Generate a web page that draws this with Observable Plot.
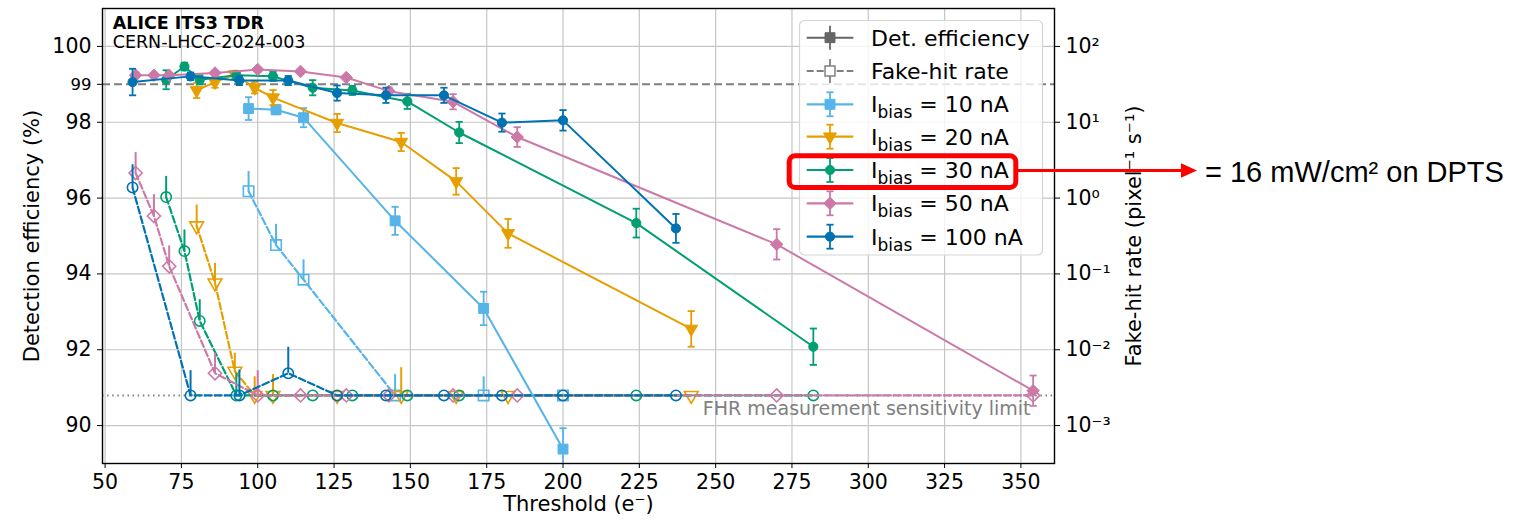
<!DOCTYPE html>
<html><head><meta charset="utf-8">
<script src="https://cdn.jsdelivr.net/npm/d3@7"></script>
<script src="https://cdn.jsdelivr.net/npm/@observablehq/plot@0.6"></script>
<style>
html,body{margin:0;padding:0;background:#fff;}
#chart{width:1519px;height:523px;overflow:hidden;}
</style></head><body><div id="chart"></div>
<script>
// ---------- data ----------
const xTicks = [50, 75, 100, 125, 150, 175, 200, 225, 250, 275, 300, 325, 350];
const effTicks = [90, 92, 94, 96, 98, 100];
const extraEffTick = [99];
const fhrLimit = 0.0025;          // FHR measurement sensitivity limit
const effRef = 99;                // 99 % reference line

const seriesNames = ["10 nA", "20 nA", "30 nA", "50 nA", "100 nA"];
const seriesColors = ["#56B4E9", "#E69F00", "#009E73", "#CC79A7", "#0072B2"];

// 10 nA
const thr10 = [97, 106, 115, 145, 174, 200];
const eff10 = [98.36, 98.33, 98.12, 95.40, 93.09, 89.38];
const effErr10 = [0.3, 0.12, 0.25, 0.37, 0.44, 0.55];
const fhr10 = [1.23, 0.24, 0.084, 0.0025, 0.0025, 0.0025];
const fhrHi10 = [2.24, 0.45, 0.153, 0.0047, 0.0044, null];
// 20 nA
const thr20 = [80, 86, 92.5, 99, 105, 126, 147, 165, 182, 242];
const eff20 = [98.84, 99.06, 99.26, 98.91, 98.65, 97.98, 97.48, 96.44, 95.07, 92.55];
const effErr20 = [0.2, 0.15, 0.1, 0.15, 0.2, 0.24, 0.24, 0.35, 0.38, 0.47];
const fhr20 = [0.43, 0.076, 0.0052, 0.0025, 0.0025, 0.0025, 0.0025, 0.0025, 0.0025, 0.0025];
const fhrHi20 = [0.81, 0.138, 0.009, 0.0044, 0.0047, null, 0.0058, null, null, null];
// 30 nA
const thr30 = [70, 76, 81, 93, 105, 118, 131, 149, 166, 224, 282];
const eff30 = [99.12, 99.47, 99.12, 99.24, 99.21, 98.91, 98.84, 98.55, 97.73, 95.34, 92.08];
const effErr30 = [0.25, 0.1, 0.12, 0.1, 0.12, 0.2, 0.12, 0.2, 0.28, 0.38, 0.48];
const fhr30 = [1.03, 0.20, 0.024, 0.0025, 0.0025, 0.0025, 0.0025, 0.0025, 0.0025, 0.0025, 0.0025];
const fhrHi30 = [1.93, 0.38, 0.0457, 0.0049, null, null, null, null, null, null, null];
// 50 nA
const thr50 = [60, 66, 71, 86, 100, 114, 129, 143, 164, 185, 270, 354];
const eff50 = [99.24, 99.24, 99.24, 99.30, 99.39, 99.34, 99.18, 98.82, 98.54, 97.61, 94.78, 90.92];
const effErr50 = [0.08, 0.05, 0.05, 0.05, 0.05, 0.05, 0.05, 0.1, 0.2, 0.26, 0.4, 0.4];
const fhr50 = [2.14, 0.58, 0.126, 0.0049, 0.0025, 0.0025, 0.0025, 0.0025, 0.0025, 0.0025, 0.0025, 0.0025];
const fhrHi50 = [3.98, 1.11, 0.234, 0.009, 0.0053, null, null, null, null, null, null, null];
// 100 nA
const thr100 = [59, 78, 94, 110, 126, 142, 161, 180, 200, 237];
const eff100 = [99.06, 99.21, 99.1, 99.1, 98.77, 98.71, 98.71, 97.99, 98.05, 95.2];
const effErr100 = [0.35, 0.1, 0.12, 0.12, 0.2, 0.2, 0.2, 0.24, 0.27, 0.38];
const fhr100 = [1.38, 0.0025, 0.0025, 0.0049, 0.0025, 0.0025, 0.0025, 0.0025, 0.0025, 0.0025];
const fhrHi100 = [2.75, 0.0053, 0.0054, 0.0108, null, null, null, null, null, null];

// ---------- helpers ----------
// right (log) axis aligned with left: 10^2 <-> 100 %, one decade per 2 %
const effOf = f => 100 + 2 * (Math.log10(f) - 2);
const supMap = {"-": "\u207B", "0": "\u2070", "1": "\u00B9", "2": "\u00B2", "3": "\u00B3"};
const powFmt = e => "10" + String(Math.round((e - 100) / 2 + 2)).split("").map(c => supMap[c]).join("");

const triangleDown = {
  draw(ctx, size) {
    const y = -Math.sqrt(size / (3 * Math.sqrt(3)));
    ctx.moveTo(0, -y * 2);
    ctx.lineTo(-Math.sqrt(3) * y, y);
    ctx.lineTo(Math.sqrt(3) * y, y);
    ctx.closePath();
  }
};
const hline = {
  draw(ctx, size) {
    const r = Math.sqrt(size / Math.PI);
    ctx.moveTo(-r, 0);
    ctx.lineTo(r, 0);
  }
};
const seriesSymbols = ["square", triangleDown, "circle", "diamond2", "circle"];
const seriesR = [5.6, 4.8, 4.6, 5.6, 4.6];
const openR = [5.9, 5.1, 5.2, 5.9, 5.2];

function rows(i, thr, eff, err, fhr, fhrHi) {
  return thr.map((t, j) => ({series: seriesNames[i], thr: t, eff: eff[j], err: err[j], fhr: fhr[j], fhrHi: fhrHi[j]}));
}
const allSeries = [
  rows(0, thr10, eff10, effErr10, fhr10, fhrHi10),
  rows(1, thr20, eff20, effErr20, fhr20, fhrHi20),
  rows(2, thr30, eff30, effErr30, fhr30, fhrHi30),
  rows(3, thr50, eff50, effErr50, fhr50, fhrHi50),
  rows(4, thr100, eff100, effErr100, fhr100, fhrHi100)
];

// ---------- marks ----------
const marks = [
  Plot.ruleX(xTicks, {stroke: "#c6c6c6", strokeWidth: 1.2}),
  Plot.ruleY(effTicks, {stroke: "#c6c6c6", strokeWidth: 1.2}),
  Plot.ruleY([effRef], {stroke: "#808080", strokeWidth: 2, strokeDasharray: "8,4"}),
  Plot.ruleY([fhrLimit], {y: d => effOf(d), stroke: "#808080", strokeWidth: 2, strokeDasharray: "1.5,3.6"}),
  Plot.text(["FHR measurement sensitivity limit"], {frameAnchor: "right", y: [effOf(fhrLimit)], dx: -24, dy: 14, textAnchor: "end", fill: "#808080", fontSize: 19})
];

// fake-hit rate (dashed, open markers)
allSeries.forEach((data, i) => {
  const c = seriesColors[i];
  marks.push(
    Plot.line(data, {x: "thr", y: d => effOf(d.fhr), stroke: c, strokeWidth: 2.2, strokeDasharray: "7,3"}),
    Plot.ruleX(data.filter(d => d.fhrHi != null), {x: "thr", y1: d => effOf(d.fhr), y2: d => effOf(d.fhrHi), stroke: c, strokeWidth: 2}),
    Plot.dot(data, {x: "thr", y: d => effOf(d.fhr), symbol: seriesSymbols[i], r: openR[i], fill: "none", stroke: c, strokeWidth: 1.6})
  );
});
// detection efficiency (solid, filled markers)
allSeries.forEach((data, i) => {
  const c = seriesColors[i];
  marks.push(
    Plot.line(data, {x: "thr", y: "eff", stroke: c, strokeWidth: 2}),
    Plot.ruleX(data, {x: "thr", y1: d => d.eff - d.err, y2: d => d.eff + d.err, stroke: c, strokeWidth: 1.8, clip: true}),
    Plot.dot(data, {x: "thr", y: d => d.eff + d.err, symbol: hline, r: 3.6, fill: "none", stroke: c, strokeWidth: 1.8, clip: true}),
    Plot.dot(data, {x: "thr", y: d => d.eff - d.err, symbol: hline, r: 3.6, fill: "none", stroke: c, strokeWidth: 1.8, clip: true}),
    Plot.dot(data, {x: "thr", y: "eff", symbol: seriesSymbols[i], r: seriesR[i], fill: c, stroke: c, strokeWidth: 1, clip: true})
  );
});

marks.push(
  Plot.frame({stroke: "black", strokeWidth: 1.4}),
  Plot.axisX(xTicks, {anchor: "bottom", tickSize: 5, tickPadding: 6, fontSize: 20.5, label: null}),
  Plot.axisY(effTicks, {anchor: "left", tickSize: 5, tickPadding: 6, fontSize: 20.5, label: null}),
  Plot.axisY(extraEffTick, {anchor: "left", tickSize: 5, tickPadding: 6, fontSize: 16.5, label: null}),
  Plot.axisY(effTicks, {anchor: "right", tickSize: 5, tickPadding: 6, fontSize: 20.5, label: null, tickFormat: powFmt}),
  Plot.text(["Threshold (e\u207B)"], {frameAnchor: "bottom", dy: 47, fontSize: 21, textAnchor: "middle"}),
  Plot.text(["Detection efficiency (%)"], {frameAnchor: "left", dx: -70, rotate: -90, fontSize: 21, textAnchor: "middle"}),
  Plot.text(["Fake-hit rate (pixel\u207B\u00B9 s\u207B\u00B9)"], {frameAnchor: "right", dx: 80, rotate: -90, fontSize: 21, textAnchor: "middle"})
);

const chart = Plot.plot({
  width: 1519,
  height: 523,
  marginLeft: 102,
  marginRight: 465,
  marginTop: 8,
  marginBottom: 60,
  style: {fontFamily: "DejaVu Sans", fontSize: "20px", color: "black", background: "white", overflow: "visible"},
  x: {domain: [49.15, 361], axis: null},
  y: {domain: [89, 101], axis: null},
  marks
});
document.getElementById("chart").appendChild(chart);

// ---------- title, legend, annotation ----------
const svg = d3.select(chart);
const ttl = svg.append("g").attr("text-anchor", "start").attr("font-family", "DejaVu Sans").attr("font-size", 17.5);
ttl.append("text").attr("x", 112.7).attr("y", 29.3).attr("font-weight", "bold").text("ALICE ITS3 TDR");
ttl.append("text").attr("x", 112.7).attr("y", 48.3).text("CERN-LHCC-2024-003");

const lg = svg.append("g").attr("text-anchor", "start").attr("font-family", "DejaVu Sans").attr("font-size", 22);
lg.append("rect").attr("x", 799.5).attr("y", 20.5).attr("width", 243).attr("height", 234.5).attr("rx", 5)
  .attr("fill", "white").attr("fill-opacity", 0.8).attr("stroke", "#d6d6d6").attr("stroke-width", 1.2);
const rowY = [37.7, 71, 104.3, 136.7, 170, 203.3, 236.7];
const hx0 = 806.7, hx1 = 853.3, hxm = 830, tx = 871;
function handle(y, color, symbol, r, filled, dashed, caps, lw) {
  const g = lg.append("g");
  g.append("line").attr("x1", hx0).attr("x2", hx1).attr("y1", y).attr("y2", y).attr("stroke", color).attr("stroke-width", lw)
    .attr("stroke-dasharray", dashed ? "7,3" : null);
  g.append("line").attr("x1", hxm).attr("x2", hxm).attr("y1", y - 12).attr("y2", y + 12).attr("stroke", color).attr("stroke-width", 1.8);
  if (caps) {
    [y - 12, y + 12].forEach(cy => g.append("line").attr("x1", hxm - 3.6).attr("x2", hxm + 3.6).attr("y1", cy).attr("y2", cy).attr("stroke", color).attr("stroke-width", 1.8));
  }
  const sym = typeof symbol === "string" ? {square: d3.symbolSquare, circle: d3.symbolCircle, diamond2: d3.symbolDiamond2}[symbol] : symbol;
  g.append("path").attr("transform", `translate(${hxm},${y})`).attr("d", d3.symbol(sym, r * r * Math.PI)())
    .attr("fill", filled ? color : "white").attr("stroke", color).attr("stroke-width", filled ? 1 : 1.5);
}
handle(rowY[0], "#666666", "square", 5.6, true, false, false, 2);
handle(rowY[1], "#808080", "square", 5.6, false, true, false, 1.8);
lg.append("text").attr("x", tx).attr("y", rowY[0]).attr("dy", "0.36em").text("Det. efficiency");
lg.append("text").attr("x", tx).attr("y", rowY[1]).attr("dy", "0.36em").text("Fake-hit rate");
seriesNames.forEach((name, i) => {
  const y = rowY[i + 2];
  handle(y, seriesColors[i], seriesSymbols[i], seriesR[i], true, false, true, 2.2);
  const t = lg.append("text").attr("x", tx).attr("y", y).attr("dy", "0.36em");
  t.append("tspan").text("I");
  t.append("tspan").attr("font-size", 17).attr("dy", 6).text("bias");
  t.append("tspan").attr("dy", -6).text(" = " + name);
});

const ann = svg.append("g").attr("text-anchor", "start");
ann.append("rect").attr("x", 789.2).attr("y", 155.8).attr("width", 226.6).attr("height", 31.7).attr("rx", 6)
  .attr("fill", "none").attr("stroke", "#ff0000").attr("stroke-width", 5);
ann.append("line").attr("x1", 1018).attr("x2", 1183).attr("y1", 170.5).attr("y2", 170.5).attr("stroke", "#ff0000").attr("stroke-width", 3);
ann.append("path").attr("d", "M1181,163.3L1197,170.5L1181,177.7Z").attr("fill", "#ff0000");
ann.append("text").attr("x", 1205).attr("y", 181.7).attr("font-family", "Liberation Sans, Arial, sans-serif").attr("font-size", 29)
  .text("= 16 mW/cm\u00B2 on DPTS");
</script>
</body></html>
